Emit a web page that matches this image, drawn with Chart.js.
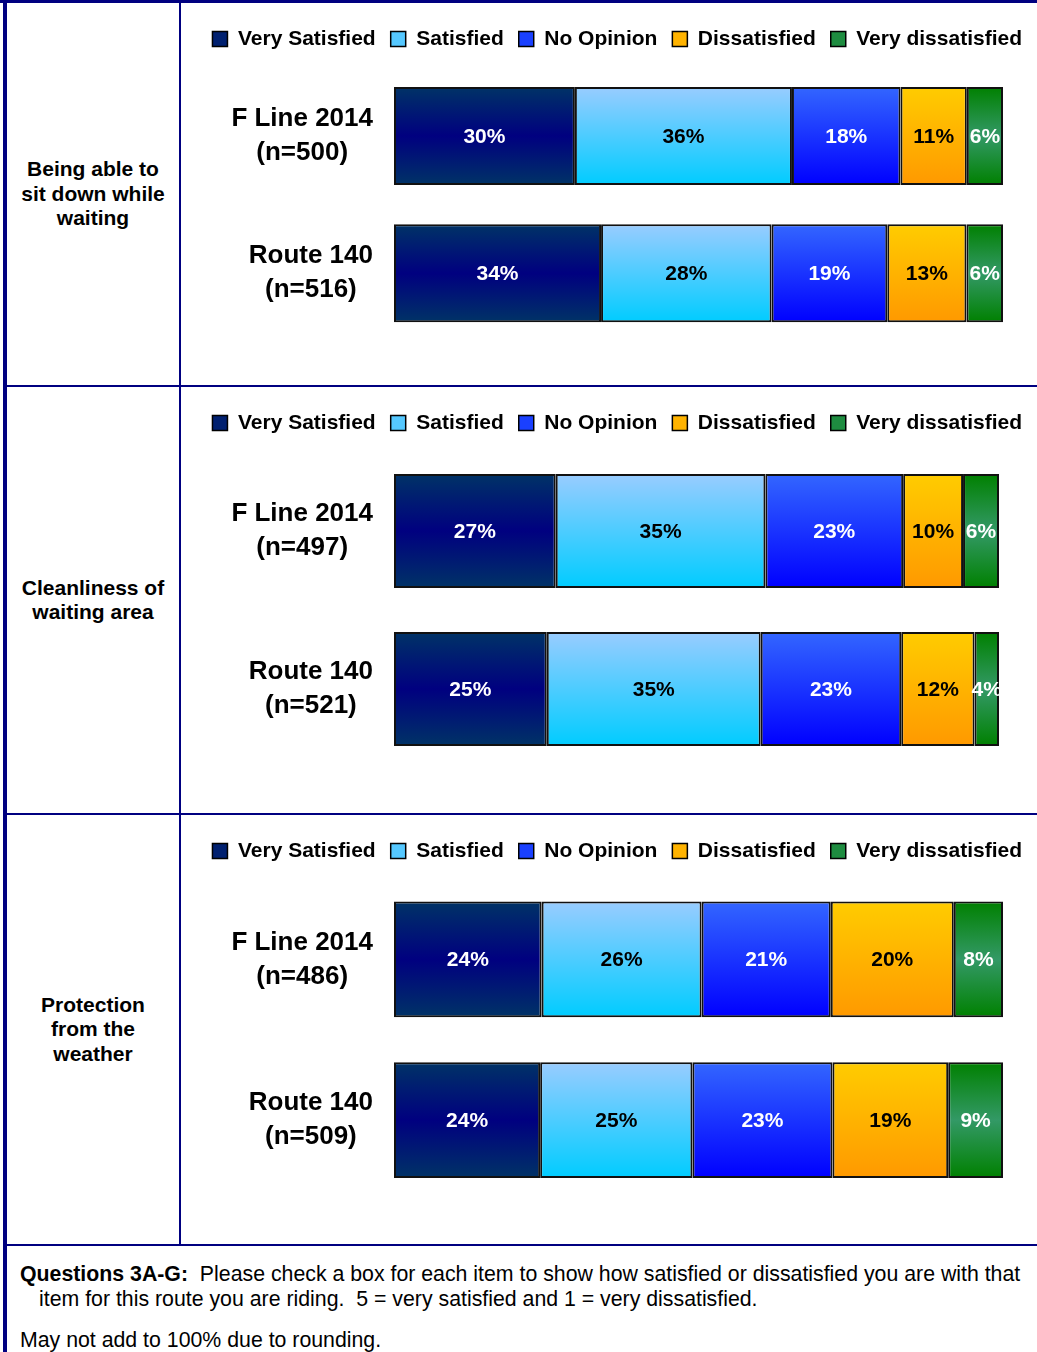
<!DOCTYPE html>
<html>
<head>
<meta charset="utf-8">
<script src="https://cdn.jsdelivr.net/npm/chart.js@4.4.1/dist/chart.umd.min.js"></script>
<style>
  html, body { margin: 0; padding: 0; background: #fff; }
  body { width: 1037px; height: 1352px; position: relative; overflow: hidden;
         font-family: 'Liberation Sans', Arial, sans-serif; color: #000; }
  .rule { position: absolute; background: #000080; }
  .item { position: absolute; left: 7px; width: 172px; display: flex; align-items: center;
          justify-content: center; text-align: center; font-weight: bold; font-size: 21px; line-height: 24.5px; }
  canvas { position: absolute; left: 181px; }
  .foot { position: absolute; left: 20px; font-size: 21.3px; line-height: 25px; white-space: nowrap; }
  .hang { padding-left: 19px; text-indent: -19px; }
</style>
</head>
<body>

<div class="item" style="top:3px;height:382px">Being able to<br>sit down while<br>waiting</div>
<div class="item" style="top:387px;height:426px">Cleanliness of<br>waiting area</div>
<div class="item" style="top:815px;height:429px">Protection<br>from the<br>weather</div>

<canvas id="panel0" width="856" height="382" style="top:3px"></canvas>
<canvas id="panel1" width="856" height="426" style="top:387px"></canvas>
<canvas id="panel2" width="856" height="429" style="top:815px"></canvas>

<!-- table rules -->
<div class="rule" style="left:0;top:0;width:1037px;height:3px"></div>
<div class="rule" style="left:3px;top:0;width:4px;height:1352px"></div>
<div class="rule" style="left:179px;top:0;width:2px;height:1245px"></div>
<div class="rule" style="left:3px;top:385px;width:1034px;height:2px"></div>
<div class="rule" style="left:3px;top:813px;width:1034px;height:2px"></div>
<div class="rule" style="left:3px;top:1244px;width:1034px;height:2px"></div>

<div class="foot hang" style="top:1262px"><b>Questions 3A-G:</b>&nbsp; Please check a box for each item to show how satisfied or dissatisfied you are with that<br>item for this route you are riding.&nbsp; 5 = very satisfied and 1 = very dissatisfied.</div>
<div class="foot" style="top:1328px">May not add to 100% due to rounding.</div>

<script>
// data
var ratingLevels = ['Very Satisfied', 'Satisfied', 'No Opinion', 'Dissatisfied', 'Very dissatisfied'];

var sitDownRows = [['F Line 2014', '(n=500)'], ['Route 140', '(n=516)']];
var sitDownPct = [[30, 36, 18, 11, 6], [34, 28, 19, 13, 6]];

var cleanRows = [['F Line 2014', '(n=497)'], ['Route 140', '(n=521)']];
var cleanPct = [[27, 35, 23, 10, 6], [25, 35, 23, 12, 4]];

var weatherRows = [['F Line 2014', '(n=486)'], ['Route 140', '(n=509)']];
var weatherPct = [[24, 26, 21, 20, 8], [24, 25, 23, 19, 9]];

// styles
var gradientStops = [
  [[0, '#003366'], [0.5, '#000080'], [1, '#003366']],
  [[0, '#99CCFF'], [1, '#00CCFF']],
  [[0, '#3366FF'], [1, '#0000FF']],
  [[0, '#FFCC00'], [1, '#FF9900']],
  [[0, '#008000'], [0.5, '#339966'], [1, '#008000']]
];
var legendColors = ['#002070', '#55C8FF', '#1A40FF', '#FFB300', '#1E8C40'];
var labelColors = ['#fff', '#000', '#fff', '#000', '#fff'];
var FONT = "'Liberation Sans', Arial, sans-serif";

Chart.defaults.font.family = FONT;

var panels = [
  { id: 'panel0', rows: sitDownRows, values: sitDownPct, barPct: 0.713, right: 34, spacer: 7.75, bottom: 43 },
  { id: 'panel1', rows: cleanRows, values: cleanPct, barPct: 0.72, right: 38, spacer: 8.5, bottom: 45 },
  { id: 'panel2', rows: weatherRows, values: weatherPct, barPct: 0.72, right: 34, spacer: 7.5, bottom: 43.5 }
];

function barFill(ctx, k, barPct) {
  var chart = ctx.chart;
  var y = chart.scales.y;
  if (ctx.type !== 'data' || !y) return legendColors[k];
  var cy = y.getPixelForValue(ctx.dataIndex);
  var half = (y.bottom - y.top) / chart.data.labels.length * barPct / 2;
  var g = chart.ctx.createLinearGradient(0, cy - half, 0, cy + half);
  gradientStops[k].forEach(function(s) { g.addColorStop(s[0], s[1]); });
  return g;
}

// row labels: each label centred on itself, block right-aligned to the bars
var rowLabels = {
  id: 'rowLabels',
  afterDraw: function(chart) {
    var ctx = chart.ctx, y = chart.scales.y, left = chart.chartArea.left;
    ctx.save();
    ctx.font = 'bold 26px ' + FONT;
    ctx.fillStyle = '#000';
    ctx.textAlign = 'center';
    ctx.textBaseline = 'middle';
    chart.data.labels.forEach(function(lines, i) {
      var cy = y.getPixelForValue(i);
      var w = Math.max.apply(null, lines.map(function(t) { return ctx.measureText(t).width; }));
      var cx = left - 21 - w / 2;
      lines.forEach(function(t, j) {
        ctx.fillText(t, cx, cy + (j - (lines.length - 1) / 2) * 34);
      });
    });
    ctx.restore();
  }
};

var valueLabels = {
  id: 'valueLabels',
  afterDatasetsDraw: function(chart) {
    var ctx = chart.ctx;
    ctx.save();
    ctx.font = 'bold 21px ' + FONT;
    ctx.textAlign = 'center';
    ctx.textBaseline = 'middle';
    chart.data.datasets.forEach(function(ds, k) {
      ctx.fillStyle = labelColors[k];
      chart.getDatasetMeta(k).data.forEach(function(bar, i) {
        var p = bar.getProps(['x', 'y', 'base'], true);
        ctx.fillText(ds.pct[i] + '%', (p.x + p.base) / 2, p.y + 1);
      });
    });
    ctx.restore();
  }
};

panels.forEach(function(p) {
  new Chart(document.getElementById(p.id), {
    type: 'bar',
    data: {
      labels: p.rows,
      datasets: ratingLevels.map(function(name, k) {
        return {
          label: name,
          // bars fill the full width (rows may not add to exactly 100)
          data: p.values.map(function(r) {
            var sum = r.reduce(function(a, b) { return a + b; }, 0);
            return r[k] / sum * 100;
          }),
          pct: p.values.map(function(r) { return r[k]; }),
          backgroundColor: function(ctx) { return barFill(ctx, k, p.barPct); },
          borderColor: '#111',
          borderWidth: 2,
          borderSkipped: false,
          barPercentage: p.barPct,
          categoryPercentage: 1
        };
      })
    },
    options: {
      indexAxis: 'y',
      responsive: false,
      animation: false,
      events: [],
      layout: { padding: { top: 10.5, right: 0, bottom: p.bottom, left: 0 } },
      scales: {
        x: {
          stacked: true, min: 0, max: 100, position: 'top',
          ticks: { display: false },
          grid: { display: false, drawTicks: true, tickLength: p.spacer },
          border: { display: false }
        },
        y: {
          stacked: true,
          ticks: { display: false },
          grid: { display: false },
          border: { display: false },
          afterFit: function(scale) { scale.width = 213; }
        },
        // empty right margin so the legend can run past the bars
        yRight: {
          type: 'category', position: 'right', labels: p.rows,
          ticks: { display: false },
          grid: { display: false },
          border: { display: false },
          afterFit: function(scale) { scale.width = p.right; }
        }
      },
      plugins: {
        tooltip: { enabled: false },
        legend: {
          position: 'top',
          align: 'end',
          labels: {
            boxWidth: 15,
            boxHeight: 15,
            padding: 15,
            color: '#000',
            font: { size: 21, weight: 'bold' },
            generateLabels: function(chart) {
              return chart.data.datasets.map(function(d, i) {
                return { text: d.label, fillStyle: legendColors[i], strokeStyle: '#000',
                         lineWidth: 1.5, hidden: false, datasetIndex: i, fontColor: '#000' };
              });
            }
          }
        }
      }
    },
    plugins: [rowLabels, valueLabels]
  });
});
</script>
</body>
</html>
